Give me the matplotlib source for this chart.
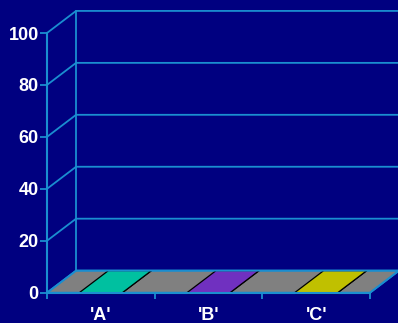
import matplotlib.pyplot as plt
from matplotlib.patches import Polygon

categories = ["'A'", "'B'", "'C'"]
values = [0, 0, 0]
bar_colors = ['#00C0A0', '#7030C0', '#C0C000']
y_ticks = [0, 20, 40, 60, 80, 100]

BG = '#000080'
LINE = '#1A8ED0'
FLOOR = '#808080'
DX, DY = 0.27, 8.5   # 3d depth offset, in data units
BAR_W = 0.4

plt.rcParams['font.family'] = ['Liberation Sans', 'DejaVu Sans']

fig = plt.figure(figsize=(3.98, 3.23), dpi=100, facecolor=BG)
ax = fig.add_axes([47 / 398, (323 - 292.7) / 323, (370 - 47) / 398, (292.7 - 33) / 323])
ax.set_facecolor('none')
n = len(categories)
ax.set_xlim(0, n)
ax.set_ylim(0, y_ticks[-1])

# floor
ax.add_patch(Polygon([(0, 0), (n, 0), (n + DX, DY), (DX, DY)], closed=True,
                     facecolor=FLOOR, edgecolor=LINE, linewidth=1.3, zorder=1, clip_on=False))

# bars (flat ones still show their top face on the floor)
for i, (v, c) in enumerate(zip(values, bar_colors)):
    x0 = i + (1 - BAR_W) / 2
    x1 = x0 + BAR_W
    faces = [
        [(x0, 0), (x1, 0), (x1, v), (x0, v)],
        [(x1, 0), (x1 + DX, DY), (x1 + DX, v + DY), (x1, v)],
        [(x0, v), (x1, v), (x1 + DX, v + DY), (x0 + DX, v + DY)],
    ]
    for f in faces:
        ax.add_patch(Polygon(f, closed=True, facecolor=c, edgecolor='black',
                             linewidth=0.9, zorder=2, clip_on=False))

# walls and gridlines
for g in y_ticks:
    ax.plot([0, DX, n + DX], [g, g + DY, g + DY], color=LINE, linewidth=1.3,
            zorder=4, clip_on=False)
ax.plot([DX, DX], [DY, y_ticks[-1] + DY], color=LINE, linewidth=1.3, zorder=4, clip_on=False)
ax.plot([n, n + DX], [0, DY], color=LINE, linewidth=1.3, zorder=4, clip_on=False)

for s in ['top', 'right']:
    ax.spines[s].set_visible(False)
for s in ['left', 'bottom']:
    ax.spines[s].set_color(LINE)
    ax.spines[s].set_linewidth(1.5)
    ax.spines[s].set_zorder(5)

ax.set_yticks(y_ticks)
ax.tick_params(axis='y', colors=LINE, labelcolor='white', length=5, width=1.3, pad=1,
               labelsize=13)
ax.set_xticks([i + 0.5 for i in range(n)])
ax.set_xticklabels(categories)
ax.set_xticks(range(n + 1), minor=True)
ax.tick_params(axis='x', which='major', length=0, pad=10, labelcolor='white', labelsize=13)
ax.tick_params(axis='x', which='minor', length=4, width=1.3, color=LINE)
for lab in ax.get_xticklabels() + ax.get_yticklabels():
    lab.set_fontweight('bold')

fig.savefig('out.png', dpi=100, facecolor=BG)
